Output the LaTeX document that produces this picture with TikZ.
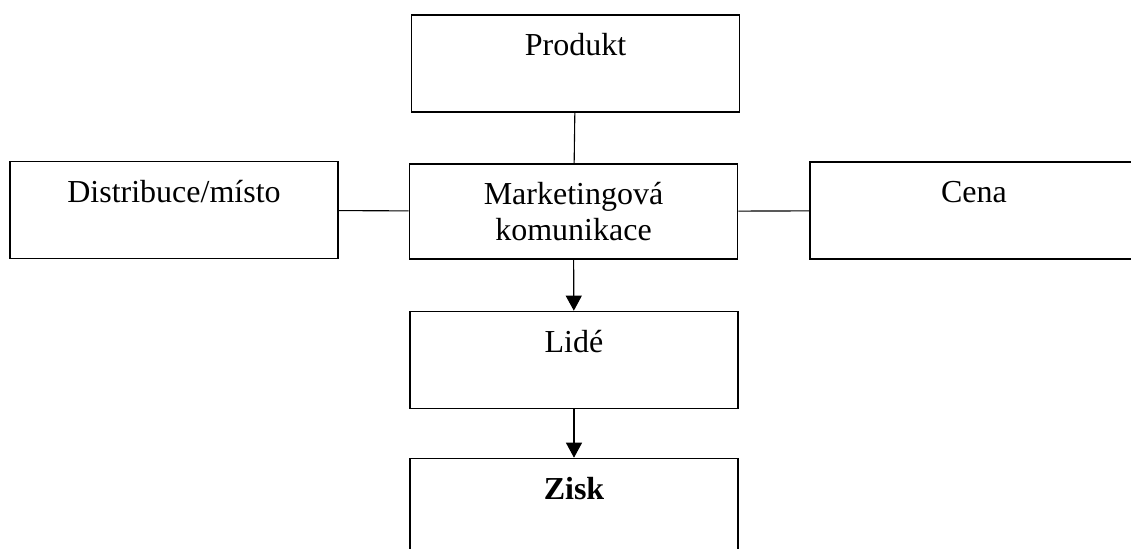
\documentclass[tikz,border=0pt]{standalone}
\usepackage{fontspec}
\setmainfont{Liberation Serif}
\usetikzlibrary{arrows.meta, positioning}

\begin{document}
\begin{tikzpicture}[x=0.5pt, y=-0.5pt,
  box/.style={rectangle, draw=black, line width=0.8pt, inner sep=0pt,
    minimum width=164pt, font=\fontsize{16}{18}\selectfont, align=center,
    text height=20.5pt, text depth=28pt},
  twoline/.style={text height=38.5pt, text depth=9pt},
  link/.style={draw=black, line width=0.55pt},
  flow/.style={link, -{Triangle[width=8pt, length=7.5pt]}}
]
\useasboundingbox (0,0) rectangle (1131,549);

\node[box] (produkt) at (575.5,63.5)  {Produkt};
\node[box] (dist)    at (174,210)     {Distribuce/místo};
\node[box, twoline] (mk) at (573.5,211.5) {Marketingová\\komunikace};
\node[box] (cena)    at (974,210.5)   {Cena};
\node[box] (lide)    at (574,360)     {Lidé};
\node[box] (zisk)    at (574,507)     {\textbf{Zisk}};

% Connections
\draw[link] (produkt) -- (mk);
\draw[link] (dist) -- (mk);
\draw[link] (mk) -- (cena);
\draw[flow] (mk) -- (lide);
\draw[flow] (lide) -- (zisk);

\end{tikzpicture}
\end{document}
